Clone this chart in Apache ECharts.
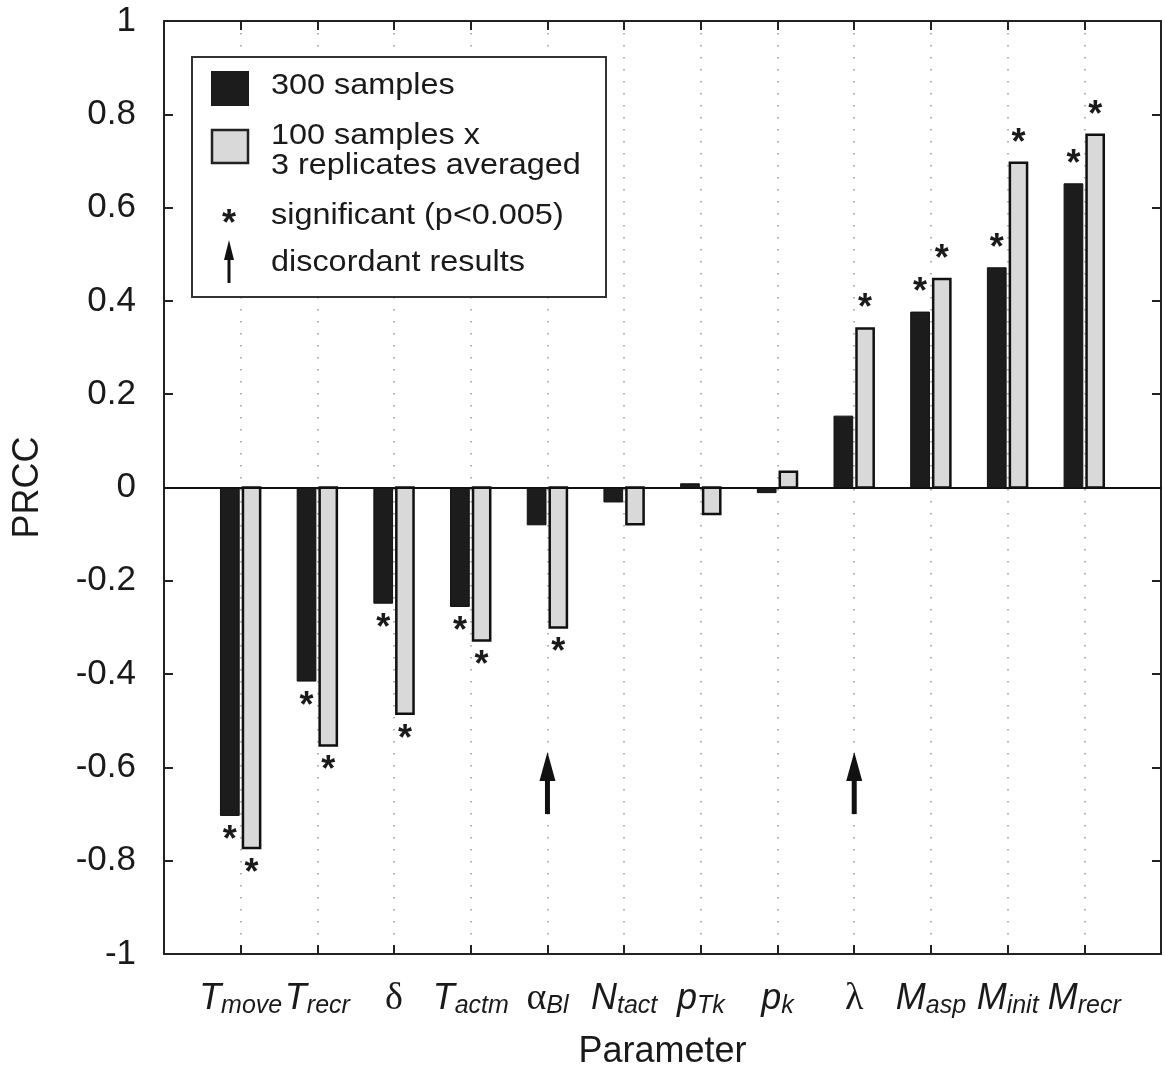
<!DOCTYPE html>
<html>
<head>
<meta charset="utf-8">
<script src="https://cdn.jsdelivr.net/npm/echarts@6/dist/echarts.min.js"></script>
<style>
  html, body { margin: 0; padding: 0; background: #fff; }
  #chart { width: 1165px; height: 1083px; }
</style>
</head>
<body>
<div id="chart"></div>
<script>
// parameter names: main symbol + subscript
var symbols = ['T', 'T', 'δ', 'T', 'α', 'N', 'p', 'p', 'λ', 'M', 'M', 'M'];
var subs = ['move', 'recr', '', 'actm', 'Bl', 'tact', 'Tk', 'k', '', 'asp', 'init', 'recr'];
var greek = ['δ', 'α', 'λ'];

// PRCC values
var prcc300 = [-0.703, -0.415, -0.248, -0.255, -0.080, -0.031, 0.008, -0.011, 0.153, 0.376, 0.471, 0.651];
var prcc100x3 = [-0.773, -0.553, -0.485, -0.328, -0.300, -0.079, -0.057, 0.034, 0.341, 0.447, 0.696, 0.756];

// significant (p<0.005)
var sig300 = [1, 1, 1, 1, 0, 0, 0, 0, 0, 1, 1, 1];
var sig100x3 = [1, 1, 1, 1, 1, 0, 0, 0, 1, 1, 1, 1];

// discordant results (1-based parameter positions), arrow from/to
var discordant = [5, 9];
var arrowTail = -0.70;
var arrowTip = -0.567;

var yTicks = [-1, -0.8, -0.6, -0.4, -0.2, 0, 0.2, 0.4, 0.6, 0.8, 1];

var legendTexts = ['300 samples', '100 samples x', '3 replicates averaged', 'significant (p<0.005)', 'discordant results'];

var INK = '#1a1a1a';
var BAR_W = 0.257;

var myChart = echarts.init(document.getElementById('chart'));

function pairs(vals, sig) {
  var out = [];
  for (var i = 0; i < vals.length; i++) out.push([i + 1, vals[i], sig[i]]);
  return out;
}

function star(x, y) {
  return {
    type: 'text',
    style: {
      text: '*', x: x, y: y,
      align: 'center', verticalAlign: 'middle',
      fontSize: 36, fontWeight: 'bold', fontFamily: 'Liberation Sans', fill: INK
    }
  };
}

function barItem(side, fill, lw) {
  return function (params, api) {
    var x = api.value(0), v = api.value(1), s = api.value(2);
    var c = api.coord([x, v]);
    var z0 = api.coord([x, 0]);
    var w = api.size([BAR_W, 0])[0];
    var left = side < 0 ? c[0] - w - 1 : c[0] + 1;
    var top = Math.min(c[1], z0[1]);
    var h = Math.abs(c[1] - z0[1]);
    var kids = [{
      type: 'rect',
      shape: { x: left + lw / 2, y: top, width: w - lw, height: h },
      style: { fill: fill, stroke: '#111', lineWidth: lw }
    }];
    if (s) kids.push(star(left + w / 2, v >= 0 ? top - 19 : top + h + 26));
    return { type: 'group', children: kids };
  };
}

function arrowItem(params, api) {
  var x = api.value(0);
  var p0 = api.coord([x, api.value(1)]);
  var p1 = api.coord([x, api.value(2)]);
  var headH = 29, headW = 8;
  return {
    type: 'group',
    children: [
      { type: 'rect', shape: { x: p0[0] - 2.5, y: p1[1] + headH - 2, width: 5, height: p0[1] - p1[1] - headH + 2 },
        style: { fill: '#111' } },
      { type: 'polygon', shape: { points: [[p1[0] - headW, p1[1] + headH], [p1[0] + headW, p1[1] + headH], [p1[0], p1[1]]] },
        style: { fill: '#111' } }
    ]
  };
}

var arrowData = discordant.map(function (i) { return [i, arrowTail, arrowTip]; });

function xLabel(v) {
  var i = Math.round(v) - 1;
  if (i < 0 || i >= symbols.length) return '';
  var main = greek.indexOf(symbols[i]) >= 0 ? '{g|' + symbols[i] + '}' : '{m|' + symbols[i] + '}';
  return subs[i] ? main + '{s|' + subs[i] + '}' : main;
}

function legendText(str, y) {
  return {
    type: 'text', x: 271, y: y, scaleX: 1.08, z: 101,
    style: { text: str, x: 0, y: 0, verticalAlign: 'middle', fontSize: 30, fontFamily: 'Liberation Sans', fill: INK }
  };
}

var frameLine = { show: true, onZero: false, lineStyle: { color: '#222', width: 2 } };
var inTicks = { show: true, inside: true, length: 9, lineStyle: { color: '#222', width: 2 } };

var legendStar = star(229, 225);
legendStar.z = 101;

var option = {
  animation: false,
  backgroundColor: '#fff',
  grid: { left: 164, right: 4, top: 21, bottom: 129, containLabel: false },
  xAxis: [{
    type: 'value', min: 0, max: 13, interval: 1,
    name: 'Parameter', nameLocation: 'middle', nameGap: 80,
    nameTextStyle: { fontSize: 36, fontFamily: 'Liberation Sans', color: INK },
    axisLine: frameLine, axisTick: inTicks,
    splitLine: { show: true, lineStyle: { color: '#999', width: 1.5, type: [1.5, 10.5] } },
    axisLabel: {
      margin: 25, formatter: xLabel,
      rich: {
        m: { fontSize: 36, fontStyle: 'italic', fontFamily: 'Liberation Sans', color: INK, lineHeight: 40 },
        g: { fontSize: 38, fontFamily: 'Liberation Serif', color: INK, lineHeight: 40 },
        s: { fontSize: 25, fontStyle: 'italic', fontFamily: 'Liberation Sans', color: INK, lineHeight: 20, verticalAlign: 'bottom' }
      }
    }
  }, {
    type: 'value', min: 0, max: 13, interval: 1, position: 'top',
    axisLine: frameLine, axisTick: inTicks, axisLabel: { show: false }, splitLine: { show: false }
  }],
  yAxis: [{
    type: 'value', min: yTicks[0], max: yTicks[yTicks.length - 1], interval: 0.2,
    name: 'PRCC', nameLocation: 'middle', nameGap: 118,
    nameTextStyle: { fontSize: 36, fontFamily: 'Liberation Sans', color: INK },
    axisLine: frameLine, axisTick: inTicks, splitLine: { show: false },
    axisLabel: {
      margin: 28, fontSize: 35, fontFamily: 'Liberation Sans', color: INK,
      formatter: function (v) { return String(Math.round(v * 10) / 10); }
    }
  }, {
    type: 'value', min: -1, max: 1, interval: 0.2, position: 'right',
    axisLine: frameLine, axisTick: inTicks, axisLabel: { show: false }, splitLine: { show: false }
  }],
  series: [{
    name: '300 samples', type: 'custom', renderItem: barItem(-1, '#1c1c1c', 1),
    data: pairs(prcc300, sig300), z: 3,
    markLine: {
      silent: true, symbol: 'none', label: { show: false },
      lineStyle: { color: '#111', width: 2, type: 'solid' },
      data: [{ yAxis: 0 }]
    }
  }, {
    name: '100 samples x 3 replicates averaged', type: 'custom', renderItem: barItem(1, '#d9d9d9', 2.5),
    data: pairs(prcc100x3, sig100x3), z: 3
  }, {
    name: 'discordant results', type: 'custom', renderItem: arrowItem, data: arrowData, z: 4
  }],
  graphic: [
    { type: 'rect', z: 100, shape: { x: 192, y: 57, width: 414, height: 240 }, style: { fill: '#fff', stroke: '#333', lineWidth: 2 } },
    { type: 'rect', z: 101, shape: { x: 211, y: 71, width: 38, height: 35 }, style: { fill: '#1c1c1c' } },
    { type: 'rect', z: 101, shape: { x: 212, y: 130, width: 36, height: 33 }, style: { fill: '#d9d9d9', stroke: '#222', lineWidth: 2.5 } },
    legendText(legendTexts[0], 86),
    legendText(legendTexts[1], 136),
    legendText(legendTexts[2], 166),
    legendStar,
    legendText(legendTexts[3], 216),
    { type: 'rect', z: 101, shape: { x: 227.5, y: 257, width: 3, height: 26 }, style: { fill: '#111' } },
    { type: 'polygon', z: 101, shape: { points: [[224, 260], [234, 260], [229, 240]] }, style: { fill: '#111' } },
    legendText(legendTexts[4], 263)
  ]
};
myChart.setOption(option);
</script>
</body>
</html>
